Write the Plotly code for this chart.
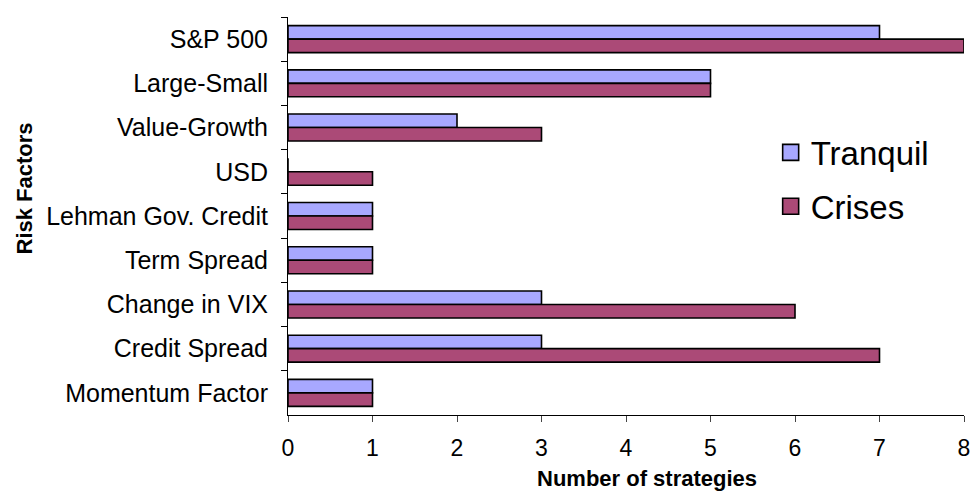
import plotly.graph_objects as go

categories = ["S&P 500", "Large-Small", "Value-Growth", "USD", "Lehman Gov. Credit",
              "Term Spread", "Change in VIX", "Credit Spread", "Momentum Factor"]
tranquil = [7, 5, 2, 0, 1, 1, 3, 3, 1]
crises = [8, 5, 3, 1, 1, 1, 6, 7, 1]
x_ticks = [0, 1, 2, 3, 4, 5, 6, 7, 8]
series_names = ["Tranquil", "Crises"]
series_colors = ["#A8A8FF", "#AB4A77"]

FONT = "Liberation Sans, Arial, sans-serif"

fig = go.Figure()
for name, vals, col in zip(series_names, [tranquil, crises], series_colors):
    fig.add_trace(go.Bar(y=categories, x=vals, orientation="h", name=name, showlegend=False,
                         marker=dict(color=col, line=dict(color="black", width=1.6))))
# legend entries with larger square swatches
for i, (name, col) in enumerate(zip(series_names, series_colors)):
    fig.add_trace(go.Scatter(x=[None], y=[None], mode="markers", name=name,
                             legendgroup=f"g{i}",
                             marker=dict(symbol="square", size=22, color=col,
                                         line=dict(color="black", width=1.6))))

fig.update_layout(
    width=980, height=491,
    margin=dict(l=288, r=10, t=17, b=76),
    paper_bgcolor="white", plot_bgcolor="white",
    barmode="group", bargap=0.39, bargroupgap=0,
    font=dict(family=FONT, color="black"),
    showlegend=True,
    legend=dict(x=0.714, y=0.73, xanchor="left", yanchor="top",
                font=dict(size=33, family=FONT), bgcolor="rgba(0,0,0,0)",
                tracegroupgap=8),
    xaxis=dict(range=[0, 8], tickvals=x_ticks, ticks="outside", ticklen=6,
               showline=True, linecolor="black", linewidth=1, showgrid=False,
               zeroline=False, tickfont=dict(size=23), ticklabelstandoff=6),
    yaxis=dict(categoryorder="array", categoryarray=categories, autorange="reversed",
               ticks="outside", ticklen=6, tickson="boundaries", tickcolor="black",
               showline=True, linecolor="black", linewidth=1, showgrid=False,
               tickfont=dict(size=25), ticklabelstandoff=14),
    annotations=[
        dict(text="<b>Number of strategies</b>", xref="paper", yref="paper",
             x=0.531, y=-0.16, xanchor="center", yanchor="middle", showarrow=False,
             font=dict(size=22, family=FONT)),
        dict(text="<b>Risk Factors</b>", xref="paper", yref="paper", textangle=-90,
             x=-0.39, y=0.57, xanchor="center", yanchor="middle", showarrow=False,
             font=dict(size=22, family=FONT)),
    ],
)

fig.write_html("out.html")
